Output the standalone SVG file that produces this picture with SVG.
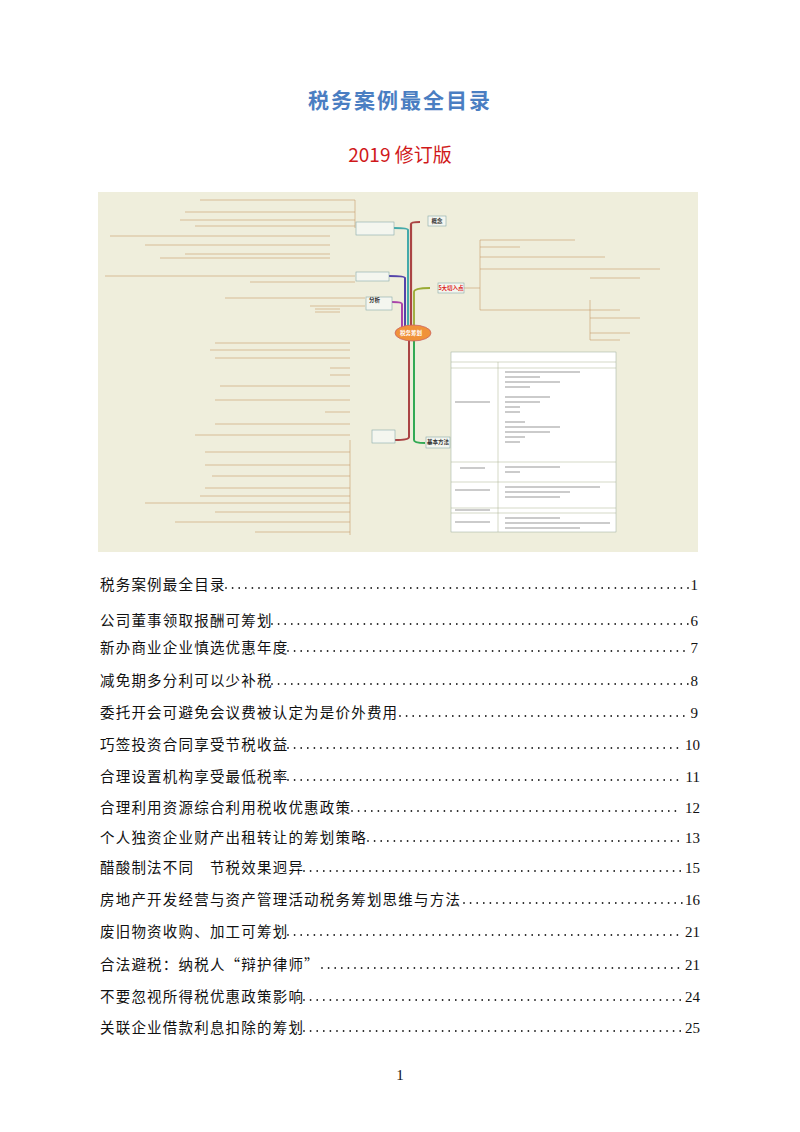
<svg xmlns="http://www.w3.org/2000/svg" width="800" height="1132" viewBox="0 0 800 1132">
<style>
.toc{font-family:"Noto Sans CJK SC","Noto Sans CJK JP",sans-serif;font-size:14.5px;fill:#111;letter-spacing:1.2px}
.pg{font-family:"Liberation Serif",serif;font-size:15px;fill:#111}
.dots{stroke:#222;stroke-width:1.8;stroke-linecap:round;stroke-dasharray:0 6.6}
.mm{font-family:"Noto Sans CJK SC",sans-serif;font-size:5.5px;fill:#333;font-weight:bold}
.box{fill:#f4f6ef;stroke:#8aa;stroke-width:0.6}
.leaf{stroke:#c79a6a;stroke-width:0.6;fill:none}
.tl{stroke:#a8b08c;stroke-width:0.5}
.tx{stroke:#bbb;stroke-width:1.4}
</style>
<rect width="800" height="1132" fill="#fff"/>
<text x="400" y="108" text-anchor="middle" font-family="Noto Sans CJK SC,serif" font-weight="bold" font-size="21" fill="#4a7ec2" letter-spacing="2">税务案例最全目录</text>
<text x="400" y="162" text-anchor="middle" font-family="Noto Sans CJK SC,sans-serif" font-size="19" fill="#d0191a">2019 修订版</text>

<g id="mindmap">
<rect x="98" y="192" width="600" height="360" fill="#efeedc"/>
<g id="connectors">
<path d="M411 333 V224 Q411 222 420 222" stroke="#a44" stroke-width="2.2" fill="none"/>
<path d="M414 333 V292 Q414 288 430 288" stroke="#9a3" stroke-width="1.8" fill="none"/>
<path d="M414 333 V440 Q414 443 425 443" stroke="#3a5" stroke-width="2" fill="none"/>
<path d="M408 333 V230 Q408 228 394 228" stroke="#4aa" stroke-width="2" fill="none"/>
<path d="M405 333 V278 Q405 276 389 276" stroke="#54a" stroke-width="2" fill="none"/>
<path d="M402 333 V304 Q402 302 392 302" stroke="#a4a" stroke-width="2" fill="none"/>
<path d="M409 333 V437 Q409 440 395 440" stroke="#a44" stroke-width="2" fill="none"/>
<g class="leaf">
<path d="M355 228 V200 H200 M355 212 H185 M355 220 H180 M355 226 H195 M330 236 H110 M330 245 H145 M330 254 H185 M330 258 H160"/>
<path d="M355 276 H105 M355 282 H250"/>
<path d="M365 298 H225 M365 306 H310 M340 309 H315 M340 312 H315"/>
<path d="M350 440 V535 M350 343 H215 M350 350 H210 M350 358 H215 M350 368 H330 M350 375 H330 M350 386 H220 M350 400 H215 M350 412 H325 M350 424 H215 M350 435 H195 M350 452 H205 M350 465 H205 M350 476 H212 M350 488 H205 M350 496 H200 M350 503 H145 M350 512 H215 M350 522 H175 M350 532 H255"/>
</g>
<g class="leaf" stroke="#9ab">
<path d="M462 288 H480 M480 240 V310 M480 240 H575 M480 247 H520 M480 257 H605 M480 269 H660 M480 310 H620 M590 300 V340 M590 278 H640 M590 318 H640 M590 333 H630 M590 340 H620"/>
</g>
</g>
<g id="center"><ellipse cx="413" cy="333" rx="18" ry="8" fill="#f0923a" stroke="#c66" stroke-width="0.8"/><text class="mm" x="411" y="335" text-anchor="middle" style="fill:#fff">税务筹划</text></g>
<g id="n1"><rect class="box" x="428" y="216" width="18" height="10"/><text class="mm" x="437" y="223" text-anchor="middle">概念</text></g>
<g id="n2"><rect class="box" x="438" y="283" width="26" height="10"/><text class="mm" x="451" y="290" text-anchor="middle" style="fill:#d22">5大切入点</text></g>
<g id="n3"><rect class="box" x="426" y="437" width="24" height="11"/><text class="mm" x="438" y="444" text-anchor="middle">基本方法</text></g>
<g id="n4"><rect class="box" x="356" y="222" width="38" height="13"/></g>
<g id="n5"><rect class="box" x="356" y="272" width="33" height="9"/></g>
<g id="n6"><rect class="box" x="366" y="297" width="26" height="13"/><text class="mm" x="369" y="302">分析</text></g>
<g id="n7"><rect class="box" x="372" y="430" width="23" height="13"/></g>
<g id="table">
<rect x="451" y="352" width="165" height="180" fill="#fff" stroke="#9a9" stroke-width="0.5"/>
<line class="tl" x1="451" y1="362" x2="616" y2="362"/><line class="tl" x1="451" y1="368" x2="616" y2="368"/>
<line class="tl" x1="451" y1="462" x2="616" y2="462"/><line class="tl" x1="451" y1="482" x2="616" y2="482"/>
<line class="tl" x1="451" y1="508" x2="616" y2="508"/><line class="tl" x1="451" y1="513" x2="616" y2="513"/>
<line class="tl" x1="498" y1="362" x2="498" y2="532"/>
<g class="tx"><path d="M505 372 H580 M505 377 H540 M505 382 H560 M505 387 H530 M505 397 H550 M505 402 H540 M505 407 H520 M505 412 H520 M505 422 H525 M505 427 H560 M505 432 H550 M505 437 H525 M505 442 H520 M505 467 H560 M505 472 H520 M505 487 H600 M505 492 H570 M505 497 H560 M505 518 H560 M505 523 H610 M505 528 H580 M455 402 H490 M460 468 H485 M455 490 H490 M455 510 H490 M455 522 H490"/></g>
</g>
</g>

<g id="toc">
<text class="toc" x="100" y="590">税务案例最全目录</text><text class="pg" x="698" y="590" text-anchor="end">1</text><line class="dots" x1="226" y1="588" x2="688" y2="588"/>
<text class="toc" x="100" y="626">公司董事领取报酬可筹划</text><text class="pg" x="698" y="626" text-anchor="end">6</text><line class="dots" x1="272" y1="624" x2="688" y2="624"/>
<text class="toc" x="100" y="653">新办商业企业慎选优惠年度</text><text class="pg" x="698" y="653" text-anchor="end">7</text><line class="dots" x1="288" y1="651" x2="688" y2="651"/>
<text class="toc" x="100" y="686">减免期多分利可以少补税</text><text class="pg" x="698" y="686" text-anchor="end">8</text><line class="dots" x1="272" y1="684" x2="688" y2="684"/>
<text class="toc" x="100" y="718">委托开会可避免会议费被认定为是价外费用</text><text class="pg" x="698" y="718" text-anchor="end">9</text><line class="dots" x1="400" y1="716" x2="688" y2="716"/>
<text class="toc" x="100" y="750">巧签投资合同享受节税收益</text><text class="pg" x="700" y="750" text-anchor="end">10</text><line class="dots" x1="288" y1="748" x2="682" y2="748"/>
<text class="toc" x="100" y="782">合理设置机构享受最低税率</text><text class="pg" x="700" y="782" text-anchor="end">11</text><line class="dots" x1="288" y1="780" x2="682" y2="780"/>
<text class="toc" x="100" y="813">合理利用资源综合利用税收优惠政策</text><text class="pg" x="700" y="813" text-anchor="end">12</text><line class="dots" x1="352" y1="811" x2="682" y2="811"/>
<text class="toc" x="100" y="843">个人独资企业财产出租转让的筹划策略</text><text class="pg" x="700" y="843" text-anchor="end">13</text><line class="dots" x1="368" y1="841" x2="682" y2="841"/>
<text class="toc" x="100" y="873">醋酸制法不同　节税效果迥异</text><text class="pg" x="700" y="873" text-anchor="end">15</text><line class="dots" x1="304" y1="871" x2="682" y2="871"/>
<text class="toc" x="100" y="905">房地产开发经营与资产管理活动税务筹划思维与方法</text><text class="pg" x="700" y="905" text-anchor="end">16</text><line class="dots" x1="464" y1="903" x2="682" y2="903"/>
<text class="toc" x="100" y="937">废旧物资收购、加工可筹划</text><text class="pg" x="700" y="937" text-anchor="end">21</text><line class="dots" x1="288" y1="935" x2="682" y2="935"/>
<text class="toc" x="100" y="970">合法避税：纳税人“辩护律师”</text><text class="pg" x="700" y="970" text-anchor="end">21</text><line class="dots" x1="322" y1="968" x2="682" y2="968"/>
<text class="toc" x="100" y="1002">不要忽视所得税优惠政策影响</text><text class="pg" x="700" y="1002" text-anchor="end">24</text><line class="dots" x1="304" y1="1000" x2="682" y2="1000"/>
<text class="toc" x="100" y="1033">关联企业借款利息扣除的筹划</text><text class="pg" x="700" y="1033" text-anchor="end">25</text><line class="dots" x1="304" y1="1031" x2="682" y2="1031"/>
</g>
<text class="pg" x="400" y="1080" text-anchor="middle" font-size="13">1</text>
</svg>
